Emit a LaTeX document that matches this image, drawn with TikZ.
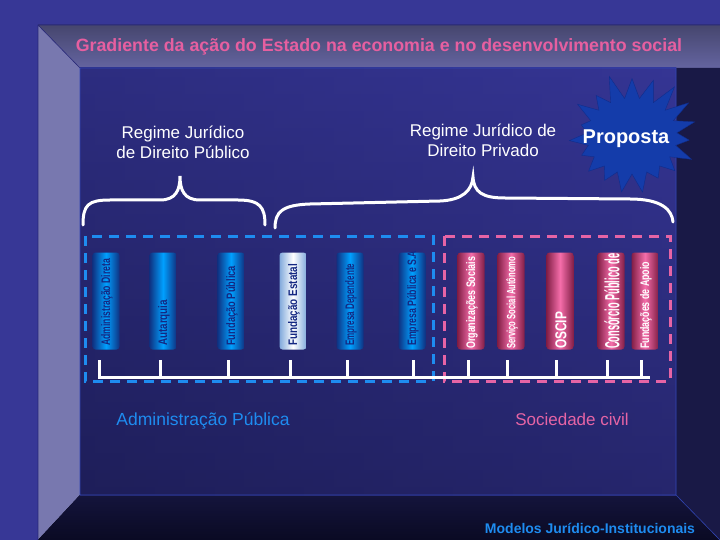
\documentclass[tikz,border=0pt]{standalone}
\usepackage{fontspec}
\setmainfont{Liberation Sans}
\usetikzlibrary{shapes.symbols}
\definecolor{bg}{RGB}{55,55,150}
\definecolor{titlepink}{RGB}{230,95,160}
\definecolor{dblue}{RGB}{30,140,240}
\definecolor{dpink}{RGB}{230,100,165}
\definecolor{topA}{RGB}{70,70,110}
\definecolor{topB}{RGB}{100,100,160}
\definecolor{leftP}{RGB}{120,120,175}
\definecolor{rightP}{RGB}{25,25,70}
\definecolor{botA}{RGB}{20,20,60}
\definecolor{botB}{RGB}{10,10,35}
\definecolor{inA}{RGB}{30,30,95}
\definecolor{inB}{RGB}{50,50,145}
\definecolor{inC}{RGB}{55,55,150}
\definecolor{inD}{RGB}{30,30,85}
\definecolor{edgeA}{RGB}{40,40,120}
\definecolor{edgeB}{RGB}{50,70,180}
\definecolor{starF}{RGB}{20,60,170}
\definecolor{starD}{RGB}{15,45,140}
\definecolor{bEdge}{RGB}{15,50,130}
\definecolor{bMid}{RGB}{0,160,255}
\definecolor{lEdge}{RGB}{130,170,220}
\definecolor{pEdge}{RGB}{130,30,70}
\definecolor{pMid}{RGB}{245,110,170}
\definecolor{ptext}{RGB}{20,40,130}
\tikzset{
 bpill/.style={rounded corners=3pt, left color=bEdge, right color=bEdge, middle color=bMid, minimum width=27pt, minimum height=97pt},
 lpill/.style={rounded corners=3pt, left color=lEdge, right color=lEdge, middle color=white, minimum width=27pt, minimum height=97pt},
 ppill/.style={rounded corners=3pt, left color=pEdge, right color=pEdge, middle color=pMid, minimum width=27pt, minimum height=97pt},
 vt/.style={rotate=90, anchor=west, font=\bfseries, inner sep=0pt},
 lbl/.style={font=\fontsize{17}{20}\selectfont, text=white, align=center},
 brc/.style={draw=white, line width=3pt, line cap=round},
 comb/.style={draw=white, line width=3pt},
}
\begin{document}
\begin{tikzpicture}[x=1pt,y=-1pt]
\useasboundingbox (0,0) rectangle (720,540);
\fill[bg] (0,0) rectangle (720,540);
\fill[top color=topA, bottom color=topB] (38,25) -- (720,25) -- (720,68) -- (80,68) -- cycle;
\fill[leftP] (38,25) -- (80,68) -- (80,495) -- (38,540) -- cycle;
\fill[rightP] (676,68) -- (720,68) -- (720,540) -- (676,495) -- cycle;
\fill[top color=botA, bottom color=botB] (80,495) -- (676,495) -- (720,540) -- (38,540) -- cycle;
\shade[left color=inA, right color=inB] (80,68) rectangle (676,495);
\shade[top color=inC, bottom color=inD, opacity=0.6] (80,68) rectangle (676,495);
\draw[edgeA, line width=0.6pt] (38,25) -- (80,68) (38,540)--(38,25)--(720,25);
\draw[edgeB, line width=0.6pt] (80,68) rectangle (676,495) (676,495)--(720,540);

\node (title) at (379,47) {\bfseries\fontsize{17.8}{20}\selectfont\color{titlepink}Gradiente da ação do Estado na economia e no desenvolvimento social};

\node[lbl] (rpub) at (183,142) {Regime Jurídico\\de Direito Público};
\node[lbl] (rpriv) at (483,140) {Regime Jurídico de\\Direito Privado};
\node[starburst, starburst points=19, starburst point height=26pt, random starburst=11, fill=starF, draw=starD, minimum width=142pt, minimum height=128pt, inner sep=0pt] (star) at (632,136) {};
\node[font=\bfseries\fontsize{20}{22}\selectfont, text=white] (prop) at (626,139) {Proposta};

\draw[brc] (83,225) .. controls (83,205) and (88,200) .. (110,200) -- (160,200) .. controls (176,200) and (180,190) .. (180,176) .. controls (180,190) and (184,200) .. (200,200) -- (238,200) .. controls (260,200) and (265,207) .. (265,225);
\draw[brc] (275,228) .. controls (275,212) and (282,205) .. (310,204) -- (440,201) .. controls (463,200) and (472,190) .. (473,177) .. controls (474,192) and (482,198) .. (505,198) -- (630,199) .. controls (662,199) and (672,210) .. (673,222);

\draw[dblue, line width=3pt, dash pattern=on 10pt off 7pt] (85,236) rectangle (433,381);
\draw[dpink, line width=3pt, dash pattern=on 10pt off 7pt] (444,236) rectangle (670,381);

\foreach \n/\x/\t/\l in {p1/106/Administração Direta/87, p2/163/Autarquia/46, p3/231/Fundação Pública/80, p5/350/Empresa Dependente/82, p6/412/Empresa Pública e S.A/95}{
  \node[bpill] (\n) at (\x,301) {};
  \node[vt, text=ptext] at (\x+1,346) {\resizebox{\l pt}{9pt}{\t}};
}
\node[lpill] (p4) at (293,301) {};
\node[vt, text=ptext] at (294,346) {\resizebox{82pt}{9pt}{Fundação Estatal}};
\foreach \n/\x/\t/\l/\s in {q1/471/Organizações Sociais/92/9, q2/511/Serviço Social Autônomo/92/9, q3/560/OSCIP/37/11, q4/611/Consórcio Público de/95/15, q5/645/Fundações de Apoio/87/9}{
  \node[ppill] (\n) at (\x,301) {};
  \node[vt, text=white] at (\x+1,349) {\resizebox{\l pt}{\s pt}{\t}};
}

\draw[comb] (98,377) -- (650,377);
\foreach \x in {99,160,228,290,347,413,468,507,556,607,641}{
  \draw[comb] (\x,360) -- (\x,378.5);
}

\node[font=\fontsize{17.5}{20}\selectfont, text=dblue] (adm) at (203,421) {Administração Pública};
\node[font=\fontsize{17}{20}\selectfont, text=dpink] (soc) at (572,419) {Sociedade civil};
\node[font=\bfseries\fontsize{14}{16}\selectfont, text=dblue] (mod) at (590,528) {Modelos Jurídico-Institucionais};
\end{tikzpicture}
\end{document}
